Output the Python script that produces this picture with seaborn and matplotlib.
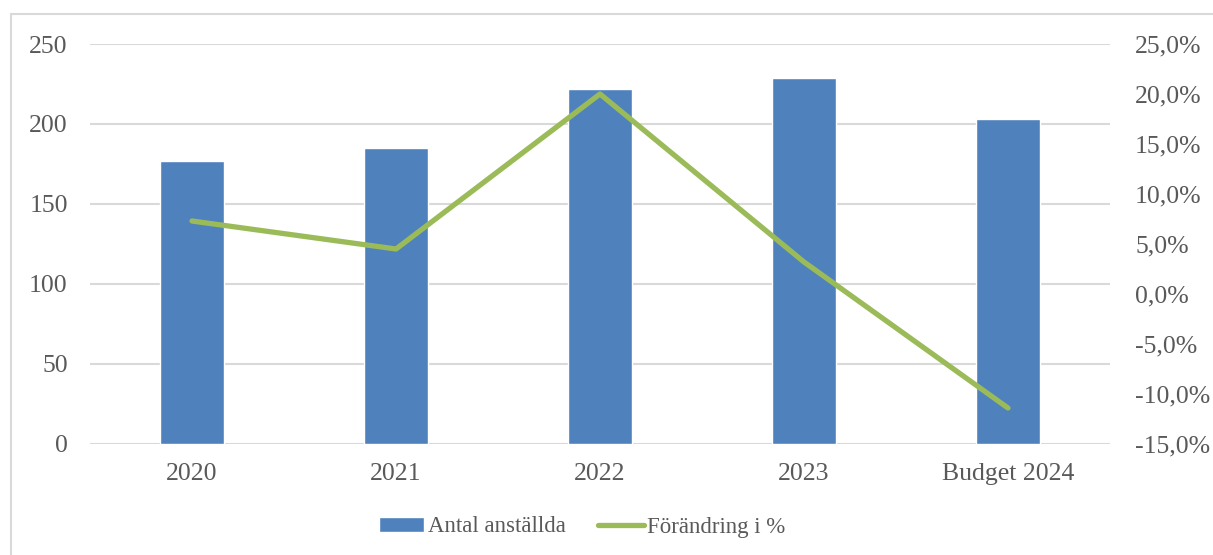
import matplotlib
matplotlib.use("Agg")
import matplotlib.pyplot as plt
import numpy as np
import pandas as pd
import seaborn as sns
from matplotlib.patches import Rectangle
from matplotlib.lines import Line2D
from matplotlib.ticker import FuncFormatter

# Data
years = ["2020", "2021", "2022", "2023", "Budget 2024"]
anstallda = [177, 185, 222, 229, 203]
forandring = [7.3, 4.5, 20.0, 3.2, -11.4]

bar_color = "#4f81bd"
line_color = "#9bbb59"
text_color = "#595959"
grid_color = "#d9d9d9"
fsize = 18.5

sns.set_theme(style="white")
plt.rcParams["font.family"] = ["Liberation Serif", "DejaVu Serif"]

df = pd.DataFrame({"year": years, "antal": anstallda, "pct": forandring})

fig = plt.figure(figsize=(12.13, 5.55), dpi=100)
ax = fig.add_axes([90 / 1213, 111 / 555, 1020 / 1213, 400 / 555])

sns.barplot(data=df, x="year", y="antal", color=bar_color, width=0.315,
            saturation=1, ax=ax, zorder=2)
ax.set_ylim(0, 250)
ax.set_xlim(-0.5, len(years) - 0.5)
ax.set_yticks(np.arange(0, 251, 50))
ax.yaxis.grid(True, color=grid_color, linewidth=1.5, zorder=0)
ax.set_axisbelow(True)
ax.set_xlabel("")
ax.set_ylabel("")
ax.tick_params(axis="both", length=0, labelsize=fsize, colors=text_color)
ax.tick_params(axis="y", pad=16)
ax.tick_params(axis="x", pad=14)
for s in ax.spines.values():
    s.set_visible(False)

ax2 = ax.twinx()
ax2.plot(np.arange(len(years)), df["pct"], color=line_color, linewidth=3.8,
         solid_capstyle="round", solid_joinstyle="round")
ax2.set_ylim(-15, 25)
ax2.set_yticks(np.arange(-15, 26, 5))
ax2.yaxis.set_major_formatter(FuncFormatter(lambda v, p: f"{v:.1f}%".replace(".", ",")))
ax2.tick_params(axis="y", length=0, labelsize=fsize, colors=text_color, pad=18)
for s in ax2.spines.values():
    s.set_visible(False)

# Chart border (left and top visible in the reference)
fig.patches.append(Rectangle((11 / 1213, -0.1), 1.2, (555 - 14) / 555 + 0.1,
                             transform=fig.transFigure, fill=False,
                             edgecolor=grid_color, linewidth=1.5))

handles = [Rectangle((0, 0), 1, 1, facecolor=bar_color),
           Line2D([0], [0], color=line_color, linewidth=3.8, solid_capstyle="round")]
fig.legend(handles, ["Antal anställda", "Förändring i %"], loc="center",
           bbox_to_anchor=(582 / 1213, 1 - 527 / 555), ncol=2, frameon=False,
           fontsize=16.5, labelcolor=text_color, handlelength=2.0,
           handleheight=0.6, handletextpad=0.15, columnspacing=1.4)

fig.savefig("out.png", dpi=100)
